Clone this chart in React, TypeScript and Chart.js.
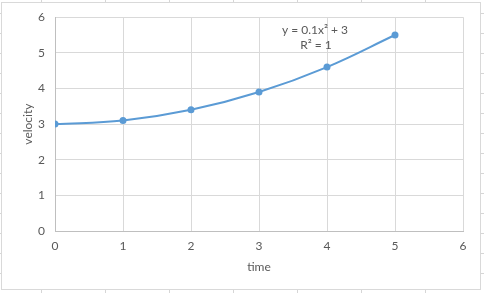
import React, { useEffect, useRef } from "react";
import { Chart, registerables } from "chart.js";
Chart.register(...registerables);

const timeValues = [0, 1, 2, 3, 4, 5];
const velocityValues = [3, 3.1, 3.4, 3.9, 4.6, 5.5];
const xTicks = [0, 1, 2, 3, 4, 5, 6];
const yTicks = [0, 1, 2, 3, 4, 5, 6];
const equationLines = ["y = 0.1x\u00B2 + 3", "R\u00B2 = 1"];
const xTitle = "time";
const yTitle = "velocity";

const FONT = "Lato, 'Liberation Sans', sans-serif";
const TEXT = "#595959";
const SERIES = "#5b9bd5";

const framePlugin = {
  id: "frame",
  beforeDraw(chart: any) {
    const ctx = chart.ctx;
    ctx.save();
    ctx.fillStyle = "#ffffff";
    ctx.fillRect(0, 0, chart.width, chart.height);
    ctx.strokeStyle = "#d6d6d6";
    ctx.lineWidth = 1;
    ctx.beginPath();
    for (let x = 41; x < chart.width; x += 64) {
      ctx.moveTo(x + 0.5, 0);
      ctx.lineTo(x + 0.5, 2);
      ctx.moveTo(x + 0.5, 290);
      ctx.lineTo(x + 0.5, chart.height);
    }
    for (let y = 13; y < chart.height; y += 20) {
      ctx.moveTo(0, y + 0.5);
      ctx.lineTo(1, y + 0.5);
      ctx.moveTo(481, y + 0.5);
      ctx.lineTo(chart.width, y + 0.5);
    }
    ctx.stroke();
    ctx.strokeStyle = "#d9d9d9";
    ctx.strokeRect(1.5, 2.5, 479, 287);
    ctx.restore();
  },
  afterDraw(chart: any) {
    const ctx = chart.ctx;
    ctx.save();
    ctx.fillStyle = TEXT;
    ctx.font = "12px " + FONT;
    ctx.textAlign = "center";
    ctx.textBaseline = "middle";
    ctx.fillText(equationLines[0], 315, 30);
    ctx.fillText(equationLines[1], 316, 45);
    ctx.restore();
  },
};

export default function App() {
  const ref = useRef<HTMLCanvasElement>(null);
  useEffect(() => {
    document.body.style.margin = "0";
    const chart = new Chart(ref.current!, {
      type: "scatter",
      data: {
        datasets: [
          {
            data: timeValues.map((t, i) => ({ x: t, y: velocityValues[i] })),
            showLine: true,
            tension: 0.4,
            borderColor: SERIES,
            backgroundColor: SERIES,
            borderWidth: 2,
            pointRadius: 3.5,
            pointBorderWidth: 0,
          } as any,
        ],
      },
      plugins: [framePlugin],
      options: {
        animation: false,
        responsive: false,
        layout: { padding: { left: 0, right: 21, top: 17, bottom: 0 } },
        plugins: { legend: { display: false }, tooltip: { enabled: false } },
        scales: {
          x: {
            type: "linear",
            min: 0,
            max: 6,
            afterBuildTicks: (s: any) => {
              s.ticks = xTicks.map((v) => ({ value: v }));
            },
            afterFit: (s: any) => {
              s.height = 62;
            },
            grid: { color: "#d9d9d9", drawTicks: false },
            border: { color: "#bfbfbf" },
            ticks: { color: TEXT, font: { family: FONT, size: 12 }, padding: 8 },
            title: {
              display: true,
              text: xTitle,
              color: TEXT,
              font: { family: FONT, size: 12 },
              padding: { top: 0, bottom: 19 },
            },
          },
          y: {
            type: "linear",
            min: 0,
            max: 6,
            afterBuildTicks: (s: any) => {
              s.ticks = yTicks.map((v) => ({ value: v }));
            },
            afterFit: (s: any) => {
              s.width = 55;
            },
            grid: { color: "#d9d9d9", drawTicks: false },
            border: { color: "#bfbfbf" },
            ticks: { color: TEXT, font: { family: FONT, size: 12 }, padding: 10 },
            title: {
              display: true,
              text: yTitle,
              color: TEXT,
              font: { family: FONT, size: 12 },
              padding: { top: 21, bottom: 0 },
            },
          },
        },
      },
    });
    return () => chart.destroy();
  }, []);
  return <canvas ref={ref} width={484} height={293} style={{ display: "block", width: 484, height: 293 }} />;
}
